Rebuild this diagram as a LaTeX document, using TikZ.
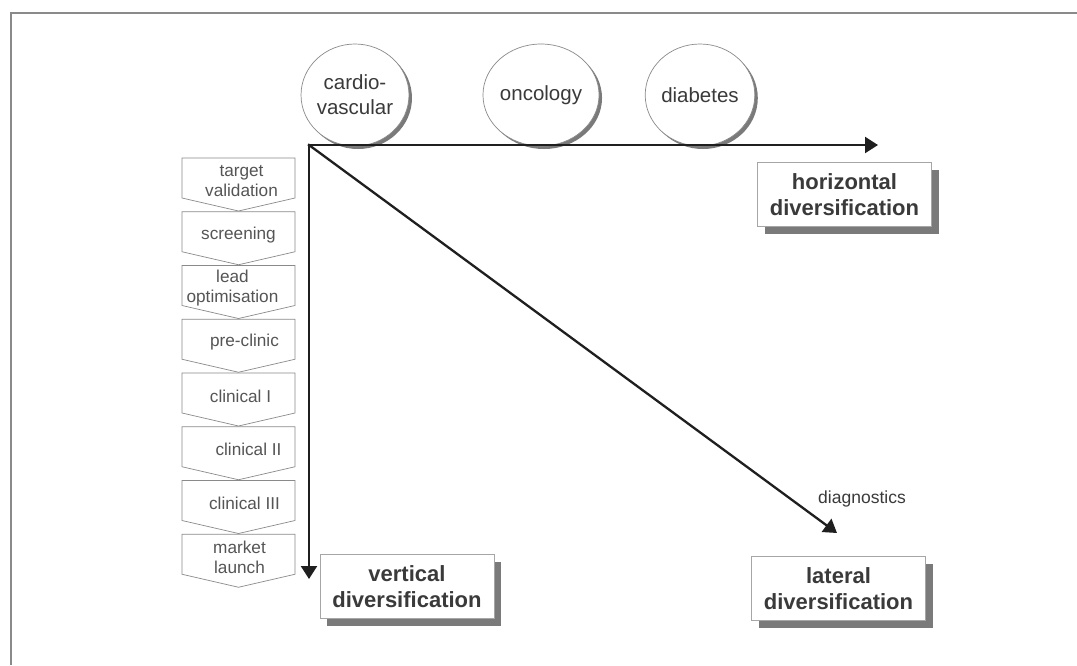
\documentclass[tikz,border=0pt]{standalone}
\usepackage{fontspec}
\setmainfont{Liberation Sans}
\usetikzlibrary{arrows.meta,shapes.geometric,shadows}

\definecolor{inkgray}{HTML}{3A3A3A}
\definecolor{stagegray}{HTML}{555555}
\definecolor{edgegray}{HTML}{8A8A8A}
\definecolor{shadegray}{HTML}{7A7A7A}

\tikzset{
  frameline/.style={draw=edgegray, line width=1.3pt},
  axis/.style={draw=black!88, line width=2.3pt, line cap=rect,
    -{Triangle[length=13pt,width=16pt]}},
  field/.style={ellipse, draw=edgegray, line width=0.7pt, fill=white,
    minimum width=96pt, minimum height=102pt, inner sep=0pt, align=center,
    font=\fontsize{20.5}{25}\selectfont, text=inkgray,
    drop shadow={shadow xshift=3pt, shadow yshift=-3pt, fill=shadegray, opacity=1}},
  stratbox/.style={rectangle, draw=black!35, line width=0.7pt, fill=white,
    minimum width=174pt, minimum height=64pt, inner sep=0pt, align=center,
    font=\bfseries\fontsize{22}{26}\selectfont, text=inkgray,
    drop shadow={shadow xshift=7pt, shadow yshift=-7pt, fill=shadegray, opacity=1}},
  stageshape/.style={draw=edgegray, line width=0.7pt, fill=white},
  stagetext/.style={align=center, inner sep=0pt, text=stagegray,
    font=\fontsize{17.2}{20}\selectfont},
  note/.style={inner sep=0pt, text=inkgray, font=\fontsize{17.5}{20}\selectfont}
}

\begin{document}
\begin{tikzpicture}[x=1pt,y=-1pt]
\useasboundingbox (0,0) rectangle (1077,665);
\fill[white] (0,0) rectangle (1077,665);

% outer frame (top and left edges)
\draw[frameline] (1077,13) -- (11,13) -- (11,665);

% therapeutic areas
\node[field] (cardio) at (355,95) {cardio-\\vascular};
\node[field] (onco)   at (541,95) {oncology};
\node[field] (diab)   at (700,95) {diabetes};

% value-chain stages
\foreach \txt/\dx [count=\i from 0] in {
    {target\\validation}/3,
    {screening}/0,
    {lead\\optimisation}/-6,
    {pre-clinic}/6,
    {clinical I}/2,
    {clinical II}/10,
    {clinical III}/6,
    {market\\launch}/1} {
  \pgfmathsetmacro{\top}{158+53.75*\i}
  \draw[stageshape] (182,\top) -- (295,\top) -- (295,\top+40)
        -- (238.5,\top+53) -- (182,\top+40) -- cycle;
  \node[stagetext] (stage\i) at (238.5+\dx,\top+23) {\txt};
}

% axes
\coordinate (origin) at (309,145);
\coordinate (hend) at (878,145);
\coordinate (vend) at (309,579);
\coordinate (dend) at (837,533);
\draw[axis] (origin) -- (hend);
\draw[axis] (origin) -- (vend);
\draw[axis] (origin) -- (dend);

% strategy labels
\node[stratbox] (horiz) at (844.5,194.5) {horizontal\\diversification};
\node[stratbox] (vert)  at (407,586.5)   {vertical\\diversification};
\node[stratbox] (lat)   at (838.5,588.5) {lateral\\diversification};

\node[note] (diag) at (862,499) {diagnostics};
\end{tikzpicture}
\end{document}
